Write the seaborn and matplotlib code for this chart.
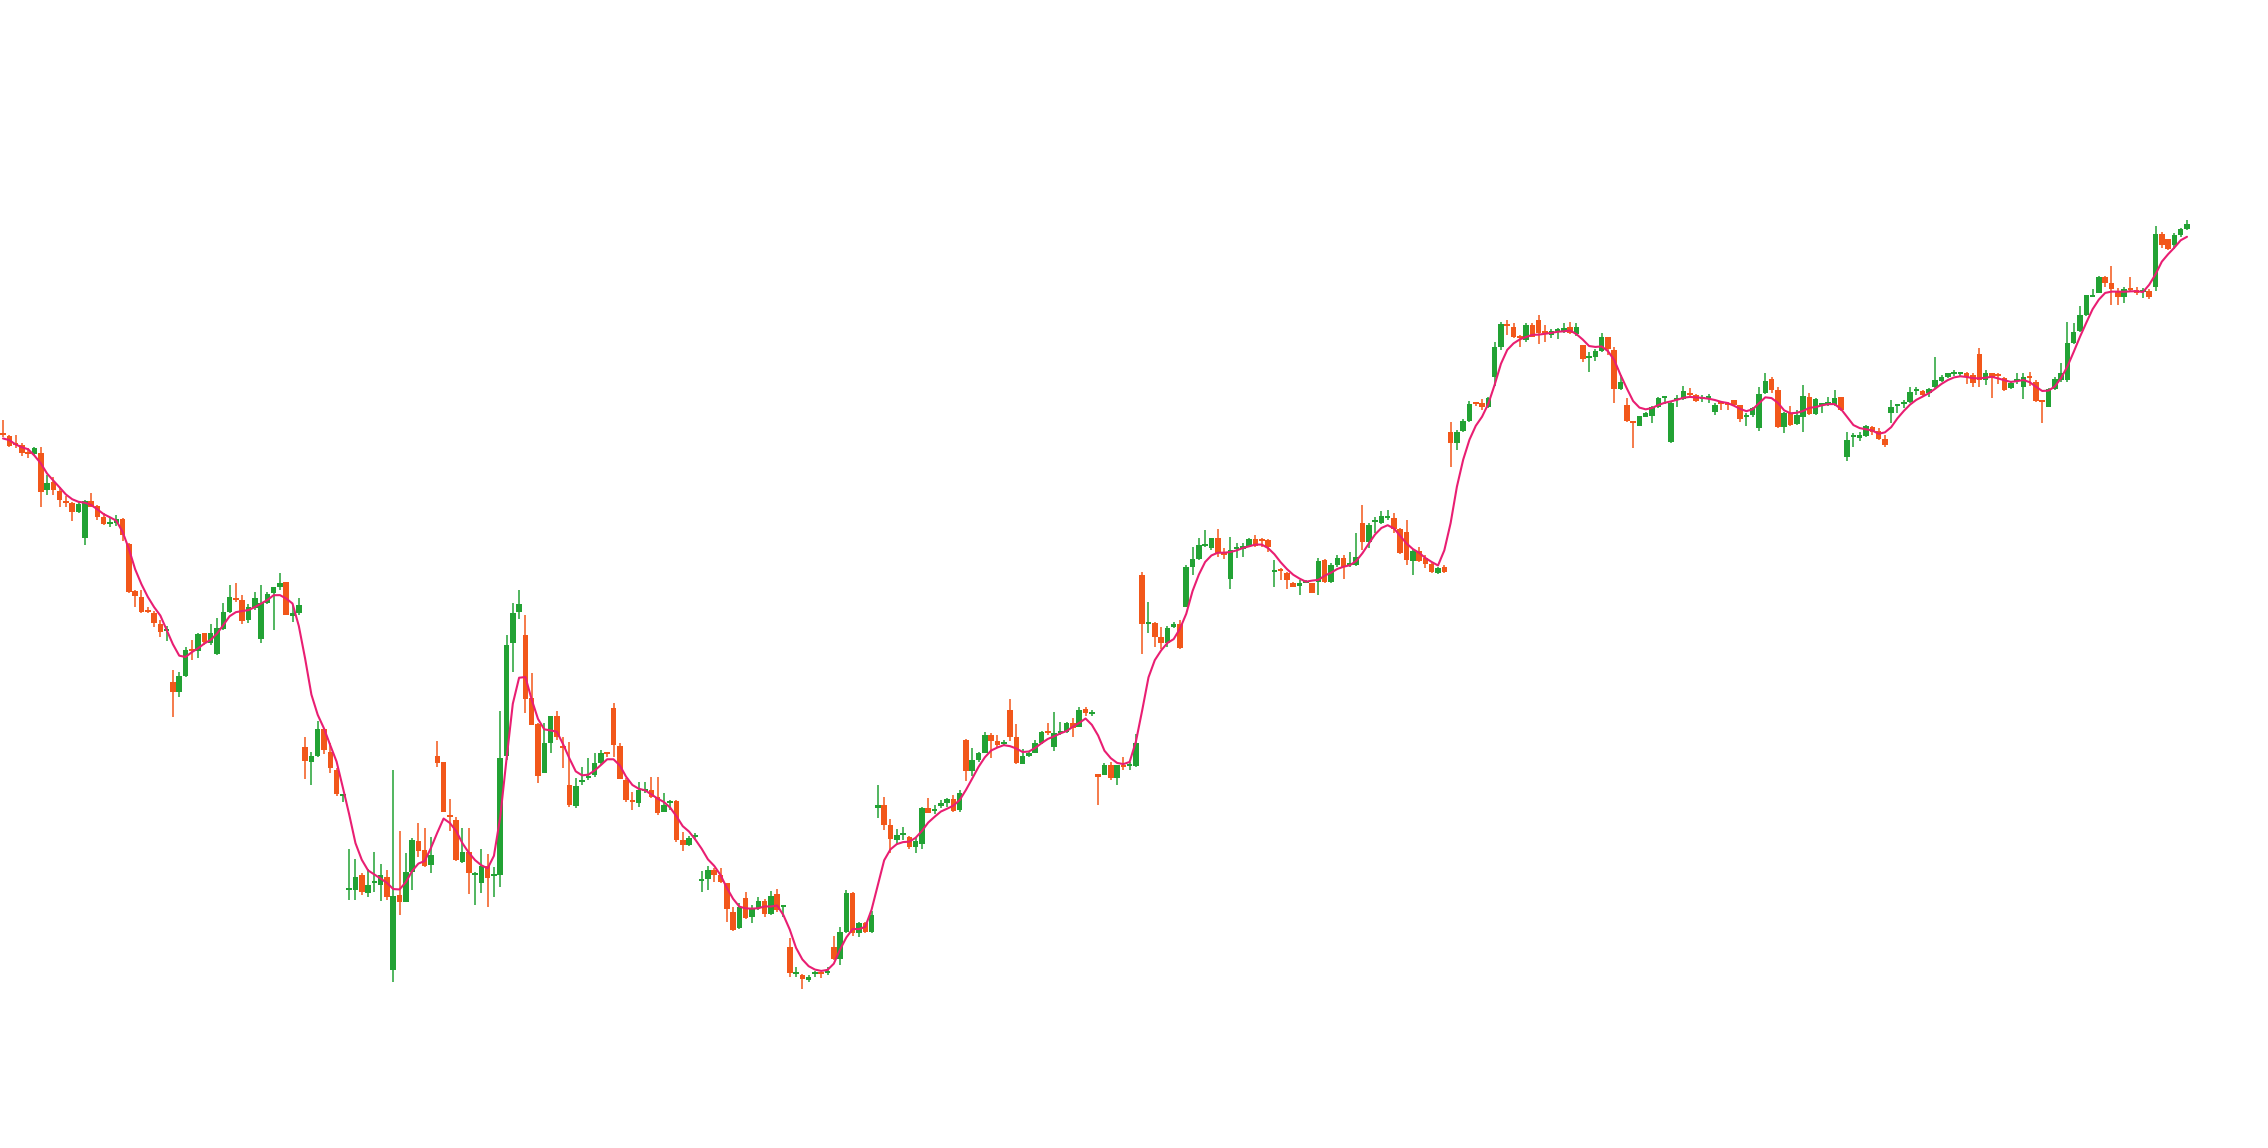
import numpy as np
import pandas as pd
import matplotlib
matplotlib.use("Agg")
import matplotlib.pyplot as plt
import matplotlib.dates as mdates
import seaborn as sns

# daily candles, 348 days
start = "2023-03-01"

opens = [
    714, 712, 704, 703, 696, 694, 695, 658, 666, 657, 647, 645,
    636, 610, 647, 642, 631, 624, 625, 629, 604, 557, 551, 537,
    535, 524, 517, 466, 456, 472, 498, 497, 515, 505, 494, 519,
    536, 549, 548, 528, 540, 509, 545, 555, 561, 566, 532, 535,
    401, 386, 392, 419, 396, 378, 352, 258, 258, 273, 255, 265,
    263, 271, 178, 253, 246, 276, 307, 298, 283, 392, 386, 333,
    328, 286, 296, 273, 265, 282, 272, 273, 392, 505, 536, 513,
    450, 424, 375, 405, 432, 402, 363, 342, 366, 370, 373, 385,
    395, 440, 402, 368, 347, 345, 357, 358, 351, 336, 345, 347,
    308, 303, 311, 267, 269, 278, 273, 265, 236, 220, 250, 231,
    240, 247, 234, 254, 241, 201, 174, 173, 168, 174, 175, 175,
    201, 189, 216, 255, 215, 225, 216, 340, 343, 323, 308, 313,
    311, 301, 304, 340, 337, 342, 345, 349, 338, 408, 377, 388,
    395, 413, 407, 404, 438, 411, 384, 392, 395, 405, 416, 401,
    415, 416, 425, 421, 439, 434, 374, 373, 383, 370, 382, 382, 382,
    573, 524, 525, 511, 505, 521, 524, 541, 581, 589, 602, 600,
    610, 595, 569, 599, 599, 602, 609, 608, 608, 576, 578, 575,
    565, 562, 565, 565, 566, 588, 566, 583, 590, 583, 583, 625,
    606, 626, 625, 630, 630, 619, 616, 587, 597, 590, 584, 575,
    581, 716, 705, 717, 727, 745, 745, 741, 771, 801, 823, 821,
    811, 808, 823, 828, 816, 813, 817, 816, 821, 814, 803, 790,
    791, 797, 811, 798, 759, 743, 726, 722, 731, 732, 741, 750,
    706, 748, 749, 755, 753, 749, 750, 736, 745, 744, 748, 743,
    731, 733, 720, 755, 769, 758, 721, 735, 724, 731, 751, 734,
    743, 744, 743, 751, 691, 711, 710, 712, 721, 717, 709, 735,
    742, 744, 746, 757, 757, 755, 761, 767, 771, 774, 774, 775,
    773, 794, 768, 775, 773, 770, 760, 767, 761, 771, 766, 747,
    741, 759, 768, 768, 805, 817, 833, 851, 855, 871, 865, 857,
    851, 859, 858, 856, 857, 861, 914, 909, 903, 913, 919,
]
highs = [
    728, 713, 713, 705, 700, 701, 701, 673, 671, 661, 652, 646,
    646, 648, 655, 643, 635, 630, 633, 630, 605, 558, 558, 541,
    537, 528, 522, 478, 476, 501, 508, 515, 515, 524, 530, 545,
    563, 565, 553, 544, 556, 563, 556, 561, 575, 566, 543, 550,
    411, 396, 427, 420, 405, 380, 354, 299, 289, 275, 279, 296,
    284, 278, 378, 317, 295, 310, 325, 320, 311, 407, 386, 349,
    331, 320, 320, 276, 299, 294, 281, 437, 513, 545, 558, 533,
    475, 425, 425, 432, 437, 411, 406, 370, 381, 390, 395, 398,
    395, 445, 405, 370, 356, 366, 366, 371, 371, 355, 348, 348,
    316, 312, 315, 277, 282, 280, 280, 265, 241, 245, 256, 243,
    251, 249, 257, 259, 243, 210, 181, 174, 173, 177, 176, 181,
    212, 221, 258, 256, 226, 226, 237, 363, 351, 329, 319, 321,
    312, 311, 341, 350, 343, 348, 350, 353, 358, 409, 400, 396,
    416, 415, 413, 408, 449, 424, 399, 397, 408, 417, 425, 436,
    426, 426, 430, 441, 441, 438, 374, 385, 386, 383, 391, 386, 414,
    576, 546, 526, 521, 522, 526, 528, 583, 601, 610, 618, 610,
    619, 600, 611, 605, 605, 610, 613, 610, 609, 588, 580, 576,
    566, 568, 568, 565, 590, 589, 585, 593, 593, 596, 615, 643,
    625, 631, 637, 638, 635, 620, 628, 599, 601, 593, 585, 581,
    583, 726, 718, 729, 747, 746, 749, 751, 806, 826, 828, 825,
    813, 825, 825, 833, 823, 819, 820, 825, 826, 825, 803, 796,
    799, 815, 811, 801, 773, 750, 727, 732, 736, 742, 751, 752,
    746, 753, 762, 760, 754, 753, 754, 745, 746, 746, 748, 743,
    735, 741, 761, 775, 771, 761, 736, 742, 738, 763, 755, 750,
    745, 751, 758, 751, 716, 715, 716, 723, 722, 720, 713, 748,
    744, 748, 761, 761, 758, 760, 791, 773, 775, 778, 775, 776,
    775, 800, 778, 775, 775, 771, 766, 775, 775, 776, 768, 748,
    760, 771, 785, 826, 825, 842, 853, 859, 872, 872, 882, 860,
    861, 871, 861, 860, 859, 922, 916, 909, 915, 920, 928,
]
lows = [
    711, 701, 700, 692, 690, 693, 641, 653, 653, 641, 641, 627,
    635, 603, 641, 628, 623, 621, 622, 607, 555, 541, 535, 535,
    521, 511, 507, 431, 451, 471, 488, 490, 503, 503, 493, 518,
    535, 546, 524, 525, 538, 505, 544, 518, 558, 533, 526, 533,
    369, 363, 391, 394, 375, 352, 346, 248, 248, 253, 251, 256,
    247, 248, 166, 233, 246, 258, 291, 281, 275, 381, 336, 317,
    287, 285, 254, 243, 255, 241, 251, 261, 388, 476, 529, 435,
    423, 365, 375, 395, 408, 380, 341, 340, 363, 368, 371, 383,
    391, 391, 369, 346, 338, 341, 355, 350, 333, 336, 338, 306,
    297, 302, 308, 256, 258, 266, 265, 226, 217, 219, 229, 225,
    238, 231, 233, 236, 231, 171, 171, 159, 166, 171, 170, 173,
    188, 183, 215, 212, 211, 215, 215, 330, 318, 295, 304, 308,
    299, 295, 299, 335, 334, 340, 341, 336, 336, 367, 372, 386,
    395, 390, 401, 402, 407, 384, 384, 391, 395, 404, 413, 397,
    413, 415, 411, 421, 432, 432, 343, 373, 368, 363, 378, 378, 381,
    494, 515, 501, 499, 501, 520, 499, 541, 573, 588, 601, 598,
    591, 589, 559, 590, 591, 601, 601, 601, 596, 561, 568, 559,
    561, 553, 565, 555, 553, 565, 565, 581, 569, 581, 582, 598,
    600, 615, 624, 628, 615, 594, 583, 573, 586, 580, 575, 574,
    575, 681, 698, 716, 726, 742, 738, 740, 762, 798, 813, 810,
    801, 806, 811, 804, 806, 810, 809, 815, 814, 812, 786, 776,
    787, 796, 793, 745, 758, 726, 700, 722, 731, 725, 740, 744,
    705, 741, 748, 750, 746, 746, 745, 733, 738, 738, 742, 726,
    722, 731, 717, 754, 755, 720, 715, 722, 723, 716, 733, 733,
    735, 742, 742, 737, 687, 701, 707, 711, 713, 708, 701, 725,
    735, 740, 745, 753, 751, 751, 760, 766, 770, 772, 771, 764,
    761, 761, 763, 750, 764, 757, 759, 764, 749, 762, 746, 725,
    741, 758, 766, 766, 804, 816, 832, 851, 855, 861, 843, 843,
    845, 856, 853, 850, 849, 857, 900, 898, 899, 911, 918,
]
closes = [
    713, 702, 703, 695, 694, 700, 656, 665, 658, 648, 645, 636,
    644, 647, 641, 631, 624, 625, 629, 613, 556, 552, 536, 536,
    525, 516, 518, 456, 472, 498, 497, 514, 506, 515, 520, 536,
    551, 548, 527, 541, 550, 545, 554, 561, 565, 533, 535, 543,
    387, 392, 419, 398, 380, 354, 352, 258, 271, 256, 263, 266,
    273, 251, 252, 246, 276, 308, 297, 282, 293, 385, 336, 331,
    288, 296, 275, 273, 282, 270, 273, 390, 503, 535, 544, 449,
    423, 372, 405, 432, 411, 400, 343, 362, 367, 371, 385, 395,
    394, 403, 369, 348, 346, 358, 357, 351, 335, 343, 345, 308,
    303, 310, 312, 267, 278, 273, 266, 239, 218, 241, 230, 240,
    247, 234, 252, 238, 242, 175, 174, 169, 171, 175, 174, 176,
    189, 216, 255, 215, 225, 216, 233, 343, 323, 309, 313, 313,
    301, 307, 340, 335, 339, 345, 349, 337, 355, 377, 388, 395,
    413, 407, 403, 405, 411, 385, 392, 395, 405, 416, 415, 415,
    417, 425, 420, 438, 435, 435, 371, 383, 370, 383, 381, 382, 405,
    524, 525, 511, 505, 520, 524, 500, 581, 589, 603, 602, 610,
    595, 593, 598, 600, 602, 609, 602, 607, 601, 576, 577, 568,
    561, 565, 565, 555, 587, 566, 583, 590, 581, 583, 591, 606,
    623, 627, 632, 630, 619, 595, 588, 597, 587, 584, 576, 580,
    576, 705, 716, 727, 744, 744, 741, 750, 801, 824, 822, 811,
    810, 823, 811, 815, 815, 817, 817, 820, 815, 821, 789, 791,
    797, 811, 799, 759, 766, 727, 725, 732, 735, 741, 750, 751,
    745, 750, 757, 753, 747, 750, 751, 743, 744, 743, 743, 729,
    731, 740, 754, 767, 758, 721, 735, 723, 733, 752, 734, 749,
    743, 744, 750, 738, 708, 711, 713, 722, 716, 709, 703, 741,
    742, 746, 756, 757, 753, 759, 768, 771, 775, 775, 774, 771,
    765, 768, 775, 771, 772, 758, 765, 768, 771, 770, 747, 746,
    759, 769, 775, 805, 816, 833, 853, 853, 871, 865, 859, 851,
    859, 858, 855, 858, 851, 914, 903, 899, 913, 919, 924,
]

df = pd.DataFrame({"open": opens, "high": highs, "low": lows, "close": closes})
df["date"] = pd.date_range(start, periods=len(df), freq="D")
# smoothed trend: ema then a short centred mean to round off the kinks
df["trend"] = df["close"].ewm(span=4).mean().rolling(3, center=True, min_periods=1).mean()

up_color = "#22a234"
down_color = "#f2571a"
line_color = "#e91e72"

sns.set_theme(style="white")
fig = plt.figure(figsize=(22.68, 11.48), dpi=100)
ax = fig.add_axes([0, 0, 1, 1])

x = mdates.date2num(df["date"])
up = df["close"] >= df["open"]
colors = np.where(up, up_color, down_color)
body_low = np.minimum(df["open"], df["close"])
body_h = np.maximum(np.abs(df["close"] - df["open"]), 1.8)

ax.vlines(x, df["low"], df["high"], colors=colors, linewidth=1.1, zorder=2)
ax.bar(x, body_h, bottom=body_low, width=0.88, color=colors, linewidth=0, zorder=3)

sns.lineplot(x=x, y=df["trend"].values, ax=ax, color=line_color, linewidth=1.5, zorder=4)

pxday = (2187 - 3) / 347
ax.set_xlim(x[0] - 3 / pxday, x[0] + (2268 - 3) / pxday)
ax.set_ylim(0, 1148)
ax.axis("off")

fig.savefig("out.png", dpi=100, facecolor="white")
